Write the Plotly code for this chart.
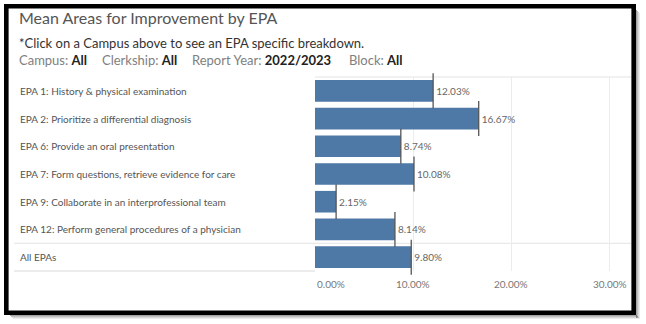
import plotly.graph_objects as go

# ---- data ----
categories = [
    "EPA 1: History & physical examination",
    "EPA 2: Prioritize a differential diagnosis",
    "EPA 6: Provide an oral presentation",
    "EPA 7: Form questions, retrieve evidence for care",
    "EPA 9: Collaborate in an interprofessional team",
    "EPA 12: Perform general procedures of a physician",
    "All EPAs",
]
values = [12.03, 16.67, 8.74, 10.08, 2.15, 8.14, 9.80]
tick_vals = [0, 10, 20, 30]
tick_text = ["0.00%", "10.00%", "20.00%", "30.00%"]
title_text = "Mean Areas for Improvement by EPA"
subtitle_text = "*Click on a Campus above to see an EPA specific breakdown."
filter_names = ["Campus:", "Clerkship:", "Report Year:", "Block:"]
filter_values = ["All", "All", "2022/2023", "All"]

# ---- layout geometry ----
W, H = 646, 324
L, R, T, B = 315, 15, 77, 53
pw, ph = W - L - R, H - T - B
FONT = "Lato"
BAR = "#4e79a7"
TXT = "#666666"
n = len(categories)


def px(x):
    return (x - L) / pw


def py(y):
    return (H - B - y) / ph


fig = go.Figure()
fig.add_trace(go.Bar(
    x=values, y=categories, orientation="h",
    marker=dict(color=BAR, line=dict(width=0)),
    width=0.78,
    text=[f"{v:.2f}%" for v in values], textposition="outside",
    textfont=dict(family=FONT, size=10, color=TXT),
    cliponaxis=False, hoverinfo="skip",
))
# dark end marks
fig.add_trace(go.Scatter(
    x=values, y=categories, mode="markers",
    marker=dict(symbol="line-ns", size=25, line=dict(color="#555555", width=1.3)),
    hoverinfo="skip", cliponaxis=False,
))

shapes = []
# shadow
for i, op in enumerate([0.35, 0.25, 0.15, 0.08]):
    shapes.append(dict(type="rect", xref="paper", yref="paper",
                       x0=px(636 + i), x1=px(637 + i), y0=py(318), y1=py(10 + i),
                       fillcolor="#000000", opacity=op, line=dict(width=0), layer="below"))
    shapes.append(dict(type="rect", xref="paper", yref="paper",
                       x0=px(10 + i), x1=px(637 + i), y0=py(315 + i), y1=py(316 + i),
                       fillcolor="#000000", opacity=op, line=dict(width=0), layer="below"))
# border
shapes.append(dict(type="rect", xref="paper", yref="paper",
                   x0=px(6.3), x1=px(633.7), y0=py(312.7), y1=py(6.3),
                   line=dict(color="#000000", width=4.6), fillcolor="rgba(0,0,0,0)", layer="above"))
# top line of plot area
shapes.append(dict(type="line", xref="paper", yref="paper", x0=0, x1=px(631), y0=1, y1=1,
                   line=dict(color="#e3e3e3", width=1), layer="below"))
# separator before All EPAs
shapes.append(dict(type="line", xref="paper", yref="y", x0=px(14), x1=px(631),
                   y0=n - 1.5, y1=n - 1.5,
                   line=dict(color="#e3e3e3", width=1), layer="below"))
# line under All EPAs (label pane)
shapes.append(dict(type="line", xref="paper", yref="paper", x0=px(14), x1=0, y0=0, y1=0,
                   line=dict(color="#d9d9d9", width=1), layer="below"))

ann = []
ann.append(dict(text=title_text, x=px(17), y=py(6), xref="paper", yref="paper",
                xanchor="left", yanchor="top", showarrow=False,
                font=dict(family=FONT, size=16, color="#555555")))
ann.append(dict(text=subtitle_text, x=px(17), y=py(33), xref="paper", yref="paper",
                xanchor="left", yanchor="top", showarrow=False,
                font=dict(family=FONT, size=13, color="#333333")))
filter_x = [17, 100, 190, 347]
for fx, nm, v in zip(filter_x, filter_names, filter_values):
    ann.append(dict(text=f"<span style='color:#808080'>{nm}</span> <b>{v}</b>",
                    x=px(fx), y=py(50), xref="paper", yref="paper",
                    xanchor="left", yanchor="top", showarrow=False,
                    font=dict(family=FONT, size=13, color="#222222")))
for c in categories:
    ann.append(dict(text=c, x=px(18), y=c, xref="paper", yref="y",
                    xanchor="left", yanchor="middle", showarrow=False,
                    font=dict(family=FONT, size=10, color="#555555")))
for tv, tt in zip(tick_vals, tick_text):
    ann.append(dict(text=tt, x=tv, y=py(276), xref="x", yref="paper",
                    xanchor="left" if tv == 0 else "center", yanchor="top", showarrow=False,
                    font=dict(family=FONT, size=10, color="#777777")))

fig.update_layout(
    width=W, height=H, autosize=False,
    margin=dict(l=L, r=R, t=T, b=B, pad=0),
    paper_bgcolor="white", plot_bgcolor="white",
    showlegend=False, bargap=0.22,
    shapes=shapes, annotations=ann,
    xaxis=dict(range=[0, (631 - L) / 9.82], tickvals=tick_vals, showticklabels=False,
               showgrid=True, gridcolor="#ececec", gridwidth=1, zeroline=False,
               showline=False, ticks="", fixedrange=True),
    yaxis=dict(categoryorder="array", categoryarray=categories, range=[n - 0.5, -0.5],
               autorange=False, showticklabels=False, showgrid=False, zeroline=False,
               showline=False, ticks="", fixedrange=True),
)
fig.write_html("out.html")
